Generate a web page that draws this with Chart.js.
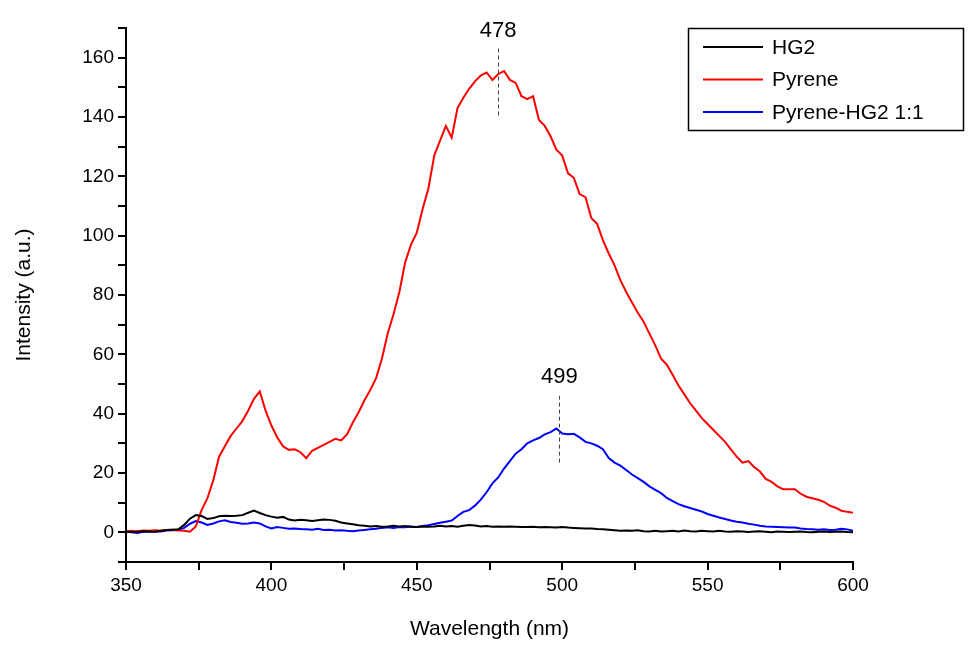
<!DOCTYPE html>
<html>
<head>
<meta charset="utf-8">
<script src="https://cdn.jsdelivr.net/npm/chart.js@4.4.0/dist/chart.umd.min.js"></script>
<style>
  html, body { margin: 0; padding: 0; background: #fff; }
  #wrap { width: 970px; height: 646px; }
</style>
</head>
<body>
<div id="wrap"><canvas id="myChart" width="970" height="646"></canvas></div>
<script>
// wavelength grid, 350..600 nm every 2 nm
const wavelengths = Array.from({ length: 126 }, (_, i) => 350 + i * 2);

const hg2 = [
  0.3, 0.1, 0.2, 0.4, 0.3, 0.2, 0.5, 0.8, 0.9, 1.0,
  2.5, 4.6, 5.8, 5.5, 4.5, 4.8, 5.4, 5.6, 5.5, 5.6,
  5.8, 6.6, 7.3, 6.5, 5.8, 5.3, 4.9, 5.2, 4.3, 4.0,
  4.2, 4.1, 3.8, 4.1, 4.3, 4.2, 3.9, 3.3, 3.0, 2.7,
  2.4, 2.2, 2.0, 2.1, 1.9, 2.0, 2.2, 2.0, 2.1, 1.9,
  1.8, 2.0, 1.9, 2.0, 2.2, 2.0, 2.1, 1.9, 2.2, 2.5,
  2.3, 2.0, 2.1, 1.9, 2.0, 1.9, 2.0, 1.9, 1.8, 1.8,
  1.9, 1.7, 1.8, 1.7, 1.6, 1.8, 1.6, 1.5, 1.4, 1.3,
  1.3, 1.1, 1.0, 0.9, 0.7, 0.5, 0.6, 0.5, 0.7, 0.4,
  0.3, 0.5, 0.3, 0.4, 0.5, 0.3, 0.6, 0.4, 0.3, 0.5,
  0.4, 0.3, 0.5, 0.3, 0.2, 0.4, 0.3, 0.1, 0.3, 0.4,
  0.2, 0.0, 0.3, 0.2, 0.1, 0.2, 0.3, 0.1, 0.0, 0.2,
  0.3, 0.1, 0.2, 0.3, 0.1, 0.0
];

const pyrene = [
  0.3, 0.5, 0.4, 0.6, 0.5, 0.7, 0.5, 0.8, 0.9, 0.6,
  0.5, 0.2, 2.0, 7.5, 11.5, 17.5, 25.5, 29.0, 32.5, 35.0,
  37.5, 41.0, 45.0, 47.5, 41.0, 36.0, 32.0, 29.0, 27.8, 28.0,
  27.0, 25.0, 27.5, 28.5, 29.5, 30.5, 31.5, 31.0, 33.0, 37.0,
  40.5, 44.5, 48.0, 52.0, 58.5, 67.0, 73.5, 81.0, 91.0, 97.0,
  101.0, 109.0, 116.0, 127.0, 132.0, 137.0, 133.0, 143.0, 146.5, 149.5,
  152.0, 154.0, 155.0, 152.5, 154.5, 155.5, 152.5, 151.5, 147.0, 146.0,
  147.0, 139.0, 137.0, 133.5, 129.0, 127.0, 121.0, 119.5, 114.0, 113.0,
  106.0, 104.0, 98.5, 94.0, 90.0, 85.0, 81.0, 77.5, 74.0, 71.0,
  67.0, 63.0, 58.5, 56.5, 53.0, 49.5, 46.5, 43.5, 41.0, 38.5,
  36.5, 34.5, 32.5, 30.5, 28.0, 25.5, 23.5, 24.0, 22.0, 20.5,
  18.0, 17.0, 15.5, 14.5, 14.5, 14.5, 13.0, 12.0, 11.5, 11.0,
  10.3, 9.0, 8.3, 7.3, 6.9, 6.6
];

const pyreneHg2 = [
  0.2, 0.0, -0.2, 0.3, 0.2, 0.4, 0.3, 0.6, 0.7, 0.8,
  1.5, 2.9, 3.8, 3.3, 2.5, 3.0, 3.7, 4.1, 3.5, 3.2,
  2.9, 3.0, 3.3, 3.0, 2.0, 1.3, 1.8, 1.5, 1.2, 1.3,
  1.1, 1.0, 0.9, 1.2, 0.8, 0.9, 0.6, 0.7, 0.5, 0.4,
  0.6, 0.8, 1.0, 1.2, 1.5, 1.7, 1.5, 1.8, 1.7, 2.0,
  1.8, 2.1, 2.4, 2.8, 3.2, 3.6, 4.0, 5.5, 6.9, 7.5,
  9.0, 11.0, 13.5, 16.5, 18.5, 21.5, 24.0, 26.5, 28.0, 30.0,
  31.0, 31.8, 33.0, 33.8, 35.0, 33.3, 33.1, 33.2, 32.0, 30.5,
  30.0, 29.2, 28.0, 25.0, 23.5, 22.5, 21.0, 19.5, 18.3, 17.0,
  15.5, 14.3, 13.2, 11.6, 10.5, 9.5, 8.8, 8.2, 7.6, 7.0,
  6.2, 5.6, 5.0, 4.5, 4.0, 3.6, 3.3, 2.9, 2.6, 2.2,
  2.0, 1.9, 1.8, 1.7, 1.6, 1.6, 1.3, 1.1, 1.0, 0.9,
  1.0, 0.8, 0.9, 1.2, 1.0, 0.5
];

const seriesNames = ["HG2", "Pyrene", "Pyrene-HG2 1:1"];
const seriesColors = ["#000000", "#ff0000", "#0000ff"];
// peak marks: [wavelength, dashed line from, dashed line to, label height]
const peakMarks = [
  [478, 140.5, 163.5, 169],
  [499, 23.5, 46, 52.5]
];

const FONT = "'Liberation Sans', Arial, sans-serif";

function toPoints(values) {
  return wavelengths.map((w, i) => ({ x: w, y: values[i] }));
}

// legend box + peak labels
const extras = {
  id: "extras",
  afterDatasetsDraw(chart) {
    const ctx = chart.ctx;
    const xs = chart.scales.x;
    const ys = chart.scales.y;
    ctx.save();

    // dashed peak lines
    ctx.strokeStyle = "#444";
    ctx.lineWidth = 1;
    ctx.setLineDash([4, 3]);
    peakMarks.forEach((m) => {
      const px = Math.round(xs.getPixelForValue(m[0])) + 0.5;
      ctx.beginPath();
      ctx.moveTo(px, ys.getPixelForValue(m[1]));
      ctx.lineTo(px, ys.getPixelForValue(m[2]));
      ctx.stroke();
    });
    ctx.setLineDash([]);
    ctx.fillStyle = "#000";
    ctx.font = "22px " + FONT;
    ctx.textAlign = "center";
    ctx.textBaseline = "middle";
    peakMarks.forEach((m) => {
      ctx.fillText(String(m[0]), xs.getPixelForValue(m[0]), ys.getPixelForValue(m[3]));
    });

    // legend
    ctx.strokeStyle = "#000";
    ctx.lineWidth = 1.5;
    ctx.strokeRect(688.5, 28.5, 275, 102);
    ctx.font = "21px " + FONT;
    ctx.textAlign = "left";
    seriesNames.forEach((name, i) => {
      const y = 47 + i * 32.5;
      ctx.strokeStyle = seriesColors[i];
      ctx.lineWidth = 2;
      ctx.beginPath();
      ctx.moveTo(703, y);
      ctx.lineTo(763, y);
      ctx.stroke();
      ctx.fillStyle = "#000";
      ctx.fillText(name, 772, y + 1);
    });
    ctx.restore();
  },
};

const data = {
  datasets: [
    { label: seriesNames[0], data: toPoints(hg2), borderColor: seriesColors[0], borderWidth: 2 },
    { label: seriesNames[1], data: toPoints(pyrene), borderColor: seriesColors[1], borderWidth: 2 },
    { label: seriesNames[2], data: toPoints(pyreneHg2), borderColor: seriesColors[2], borderWidth: 2 },
  ],
};

const config = {
  type: "line",
  data: data,
  options: {
    responsive: false,
    animation: false,
    parsing: false,
    elements: { point: { radius: 0 }, line: { tension: 0 } },
    layout: { padding: { top: 28, right: 117, left: 0, bottom: 0 } },
    plugins: { legend: { display: false }, tooltip: { enabled: false } },
    scales: {
      x: {
        type: "linear",
        min: 350,
        max: 600,
        border: { color: "#000", width: 2 },
        grid: { drawOnChartArea: false, drawTicks: true, tickLength: 8, color: "#000", lineWidth: 2 },
        ticks: {
          stepSize: 25,
          color: "#000",
          font: { family: FONT, size: 19 },
          padding: 4,
          maxRotation: 0,
          autoSkip: false,
          callback: (v) => (v % 50 === 0 ? String(v) : ""),
        },
        title: { display: true, text: "Wavelength (nm)", color: "#000", font: { family: FONT, size: 21 }, padding: { top: 12 } },
        afterFit(scale) { scale.height = 84; },
      },
      y: {
        min: -10,
        max: 170,
        border: { color: "#000", width: 2 },
        grid: { drawOnChartArea: false, drawTicks: true, tickLength: 8, color: "#000", lineWidth: 2 },
        ticks: {
          stepSize: 10,
          color: "#000",
          font: { family: FONT, size: 19 },
          padding: 4,
          autoSkip: false,
          callback: (v) => (v % 20 === 0 && v >= 0 && v <= 160 ? String(v) : ""),
        },
        title: { display: true, text: "Intensity (a.u.)", color: "#000", font: { family: FONT, size: 21 }, padding: { top: 12, bottom: 6 } },
        afterFit(scale) { scale.width = 126; },
      },
    },
  },
  plugins: [extras],
};

const myChart = new Chart(document.getElementById("myChart"), config);
</script>
</body>
</html>
